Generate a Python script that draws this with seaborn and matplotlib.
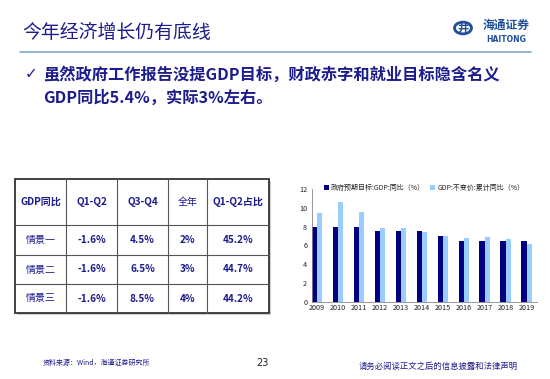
import matplotlib
matplotlib.use("Agg")
import matplotlib.pyplot as plt
import seaborn as sns
import pandas as pd
from matplotlib.patches import Rectangle, Circle
from matplotlib.lines import Line2D

sns.set_theme(style="white")
plt.rcParams['font.family'] = ['Noto Sans CJK SC', 'DejaVu Sans']

# ---- data ----
years = ["2009", "2010", "2011", "2012", "2013", "2014", "2015", "2016", "2017", "2018", "2019"]
target = [8, 8, 8, 7.5, 7.5, 7.5, 7.0, 6.5, 6.5, 6.5, 6.5]
actual = [9.4, 10.6, 9.6, 7.9, 7.8, 7.4, 7.0, 6.8, 6.9, 6.7, 6.1]
series_names = ["政府预期目标:GDP:同比（%）", "GDP:不变价:累计同比（%）"]
yticks = [0, 2, 4, 6, 8, 10, 12]

table_header = ["GDP同比", "Q1-Q2", "Q3-Q4", "全年", "Q1-Q2占比"]
table_rows = [
    ["情景一", "-1.6%", "4.5%", "2%", "45.2%"],
    ["情景二", "-1.6%", "6.5%", "3%", "44.7%"],
    ["情景三", "-1.6%", "8.5%", "4%", "44.2%"],
]

title = "今年经济增长仍有底线"
bullet1 = "虽然政府工作报告没提GDP目标，财政赤字和就业目标隐含名义"
bullet2 = "GDP同比5.4%，实际3%左右。"
source = "资料来源：Wind，海通证券研究所"
page = "23"
disclaimer = "请务必阅读正文之后的信息披露和法律声明"

NAVY = "#1c1c8c"
DARK = "#000080"
LIGHT = "#99ccff"
LOGO = "#1f4e9c"

W, H = 550, 379
fig = plt.figure(figsize=(5.5, 3.79), dpi=100)
fig.patch.set_facecolor("white")

def fx(x):
    return x / W

def fy(y):
    return 1 - y / H

# ---- header ----
fig.text(fx(22), fy(33), title, fontsize=13.6, color=NAVY, va="center", ha="left")
fig.add_artist(Line2D([fx(20), fx(531)], [fy(52), fy(52)], color="#7fa7cc", lw=1.2))
# logo
fig.add_artist(Circle((fx(463), fy(28)), 8.5 / W, transform=fig.transFigure,
                      facecolor="white", edgecolor=LOGO, lw=2.0))
fig.text(fx(463), fy(28), "井", fontsize=8, color=LOGO, ha="center", va="center", fontweight="bold")
fig.text(fx(506), fy(25), "海通证券", fontsize=8.5, color=LOGO, ha="center", va="center", fontweight="bold")
fig.text(fx(506), fy(40), "HAITONG", fontsize=5.5, color=LOGO, ha="center", va="center", fontweight="bold", family=["DejaVu Sans"])

# ---- bullet text ----
fig.text(fx(25), fy(74), "✓", fontsize=11, color=NAVY, ha="left", va="center", family=["DejaVu Sans"])
fig.text(fx(43), fy(74), bullet1, fontsize=11.7, color=NAVY, ha="left", va="center", fontweight="bold")
fig.text(fx(43), fy(98), bullet2, fontsize=11.7, color=NAVY, ha="left", va="center", fontweight="bold")

# ---- table ----
xs = [15, 66, 117, 168, 207, 269]
ys = [179, 225, 255, 284, 313]
fig.add_artist(Rectangle((fx(xs[0] + 2), fy(ys[-1] + 2)), (xs[-1] - xs[0]) / W, (ys[-1] - ys[0]) / H,
                         transform=fig.transFigure, facecolor="#cfcfcf", edgecolor="none"))
fig.add_artist(Rectangle((fx(xs[0]), fy(ys[-1])), (xs[-1] - xs[0]) / W, (ys[-1] - ys[0]) / H,
                         transform=fig.transFigure, facecolor="white", edgecolor="#333333", lw=1.3))
for x in xs[1:-1]:
    fig.add_artist(Line2D([fx(x), fx(x)], [fy(ys[0]), fy(ys[-1])], color="#555555", lw=0.8))
for y in ys[1:-1]:
    fig.add_artist(Line2D([fx(xs[0]), fx(xs[-1])], [fy(y), fy(y)], color="#555555", lw=0.8))
all_rows = [table_header] + table_rows
for r, row in enumerate(all_rows):
    yc = (ys[r] + ys[r + 1]) / 2
    for c, val in enumerate(row):
        xc = (xs[c] + xs[c + 1]) / 2
        is_cjk_only = any('\u4e00' <= ch <= '\u9fff' for ch in val) and not any(ch.isascii() and ch.isalnum() for ch in val)
        fig.text(fx(xc), fy(yc), val, fontsize=7.2, color=NAVY, ha="center", va="center",
                 fontweight="normal" if is_cjk_only else "bold")

# ---- bar chart ----
ax = fig.add_axes([fx(312), fy(301.7), (537 - 312) / W, (301.7 - 189) / H])
df = pd.DataFrame({
    "year": years * 2,
    "value": target + actual,
    "series": [series_names[0]] * len(years) + [series_names[1]] * len(years),
})
sns.barplot(data=df, x="year", y="value", hue="series", palette=[DARK, LIGHT],
            width=0.52, ax=ax, saturation=1, legend=True, linewidth=0, edgecolor="none", gap=0)
ax.set_xlim(-0.24, 10.48)
ax.set_ylim(0, 12)
ax.set_yticks(yticks)
ax.set_xlabel("")
ax.set_ylabel("")
for s in ["top", "right"]:
    ax.spines[s].set_visible(False)
for s in ["left", "bottom"]:
    ax.spines[s].set_color("#888888")
    ax.spines[s].set_linewidth(0.6)
ax.tick_params(axis="both", labelsize=5.2, colors="#222222", length=2, width=0.5, pad=1.5)
ax.tick_params(axis="x", length=0)
ax.set_facecolor("white")
leg = ax.legend(loc="center left", bbox_to_anchor=(0.04, 1.01), ncol=2, fontsize=5, frameon=False,
                handlelength=0.7, handleheight=0.7, handletextpad=0.3, columnspacing=0.8, borderaxespad=0)
for t in leg.get_texts():
    t.set_color("#222222")

# ---- footer ----
fig.text(fx(43), fy(363), source, fontsize=5, color=NAVY, ha="left", va="center")
fig.text(fx(262), fy(363), page, fontsize=7, color="#222222", ha="center", va="center", family=["DejaVu Sans"])
fig.text(fx(518), fy(366), disclaimer, fontsize=6, color=NAVY, ha="right", va="center")

fig.savefig("out.png", dpi=100, facecolor="white")
